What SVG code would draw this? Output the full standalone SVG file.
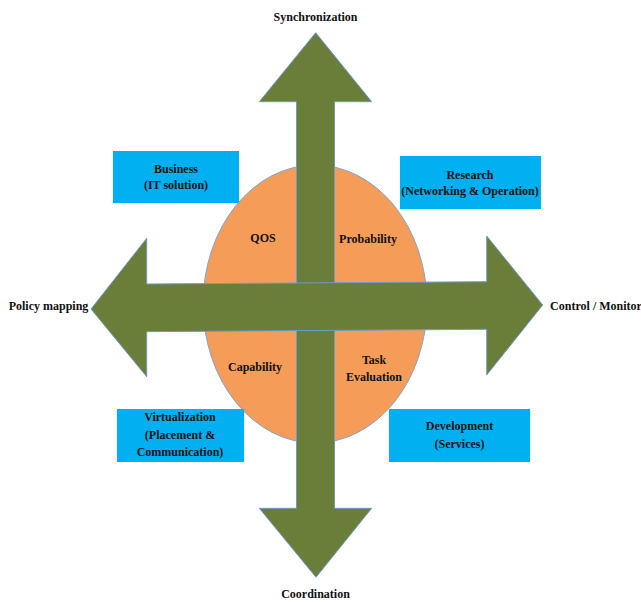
<svg xmlns="http://www.w3.org/2000/svg" width="641" height="602" viewBox="0 0 641 602">
<style>
text{font-family:"Liberation Serif","Times New Roman",serif;font-weight:bold;font-size:12px;fill:#111;text-anchor:middle}
.arrow{fill:#6A7D39;stroke:#6D9BD0;stroke-width:1}
.box{fill:#00B0F0}
.ell{fill:#F59D58;stroke:#7EA4D6;stroke-width:1}
</style>
<rect width="641" height="602" fill="#fff"/>
<g id="ellipse"><ellipse class="ell" cx="315" cy="304" rx="112" ry="139"/></g>
<g id="connectors">
<polygon id="vertical-arrow" class="arrow" points="315.7,32.7 371.7,101.7 334.5,101.7 334.5,508.3 371.7,508.3 316,577.3 259.3,508.3 296.5,508.3 296.5,101.7 259.3,101.7"/>
<polygon id="horizontal-arrow" class="arrow" points="91,309 146.7,238.3 146.7,284 486.7,281.7 486.7,236 542.7,305 486.7,375 486.7,329.3 146.7,331.7 146.7,376.7"/>
</g>
<g id="business"><rect class="box" x="113" y="151" width="126" height="52"/><text x="176" y="172.5">Business</text><text x="176" y="189">(IT solution)</text></g>
<g id="research"><rect class="box" x="400" y="156" width="141" height="53"/><text x="470" y="178.5">Research</text><text x="470" y="195">(Networking &amp; Operation)</text></g>
<g id="virtualization"><rect class="box" x="117" y="409" width="127" height="53"/><text x="180" y="421">Virtualization</text><text x="180" y="438.5">(Placement &amp;</text><text x="180" y="456">Communication)</text></g>
<g id="development"><rect class="box" x="389" y="409" width="141" height="53"/><text x="459.5" y="430">Development</text><text x="459.5" y="447.5">(Services)</text></g>
<g id="qos"><text x="263" y="242">QOS</text></g>
<g id="probability"><text x="368" y="243">Probability</text></g>
<g id="capability"><text x="255" y="371">Capability</text></g>
<g id="task-evaluation"><text x="374" y="363.5">Task</text><text x="374" y="381">Evaluation</text></g>
<g id="synchronization"><text x="315.5" y="20.5">Synchronization</text></g>
<g id="coordination"><text x="315.5" y="597.5">Coordination</text></g>
<g id="policy-mapping"><text x="48.5" y="310">Policy mapping</text></g>
<g id="control-monitor"><text x="596" y="309.5">Control / Monitor</text></g>
</svg>
